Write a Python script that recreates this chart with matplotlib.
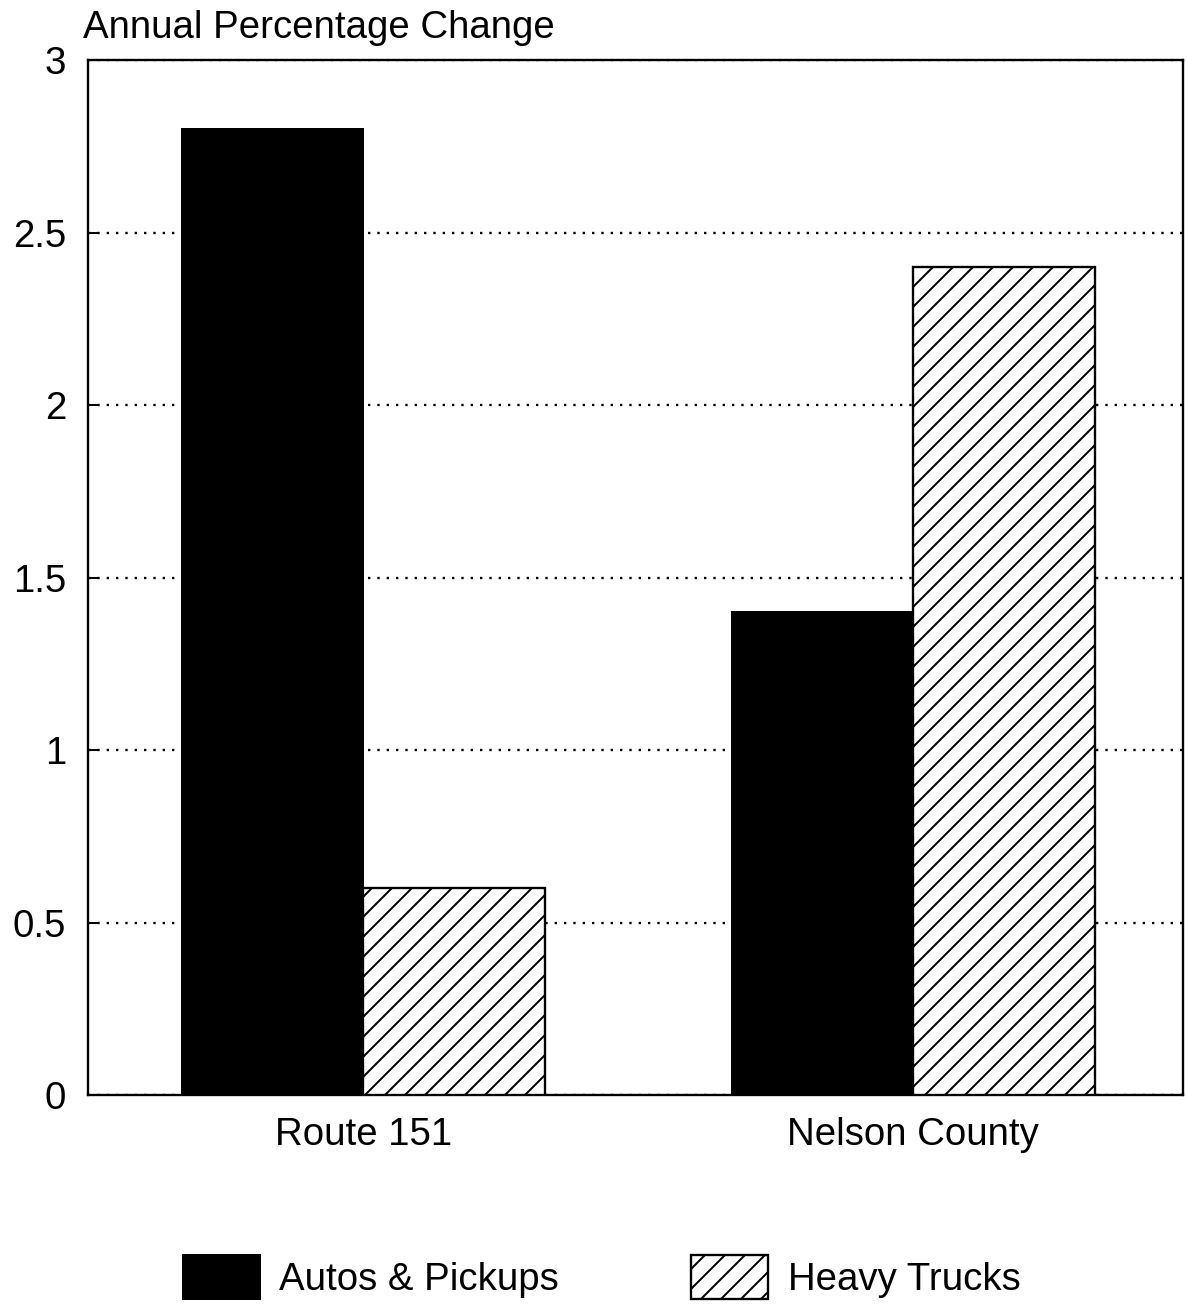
import numpy as np
import matplotlib
matplotlib.use("Agg")
import matplotlib.pyplot as plt

plt.rcParams['font.family'] = ['Liberation Sans', 'DejaVu Sans']
plt.rcParams['hatch.linewidth'] = 1.2

groups = ["Route 151", "Nelson County"]
autos = [2.8, 1.4]
trucks = [0.6, 2.4]
series_names = ["Autos & Pickups", "Heavy Trucks"]
yticks = [0, 0.5, 1, 1.5, 2, 2.5, 3]
ytick_labels = ["0", "0.5", "1", "1.5", "2", "2.5", "3"]

fs = 23

fig = plt.figure(figsize=(1187 / 120, 1307 / 120), dpi=120)
ax = fig.add_axes([0.0741, 0.1622, 0.9225, 0.7918])

x = np.arange(len(groups))
w = 0.33
ax.bar(x - w / 2, autos, w, color="black", edgecolor="black", linewidth=1.2,
       label=series_names[0], zorder=3)
ax.bar(x + w / 2, trucks, w, color="white", edgecolor="black", linewidth=1.4,
       hatch="//", label=series_names[1], zorder=3)

ax.set_xlim(-0.5, 1.49)
ax.set_ylim(0, 3)
ax.set_yticks(yticks)
ax.set_yticklabels(ytick_labels, fontsize=fs)
ax.set_xticks(x)
ax.set_xticklabels(groups, fontsize=fs)
ax.tick_params(axis='y', direction='in', length=6, width=1.2, pad=13)
ax.tick_params(axis='x', length=0, pad=13)
ax.yaxis.grid(True, linestyle=(0, (1, 3)), color="black", linewidth=1.4, zorder=0)
ax.set_axisbelow(True)
for s in ax.spines.values():
    s.set_linewidth(1.4)

fig.text(83 / 1187, 1 - 38 / 1307, "Annual Percentage Change", fontsize=fs,
         ha="left", va="baseline")

fig.legend(loc="center", bbox_to_anchor=(0.507, 0.023), ncol=2, frameon=False,
           fontsize=fs, handlelength=2.0, handleheight=1.4, handletextpad=0.52,
           columnspacing=3.45)

fig.savefig("out.png", dpi=120)
